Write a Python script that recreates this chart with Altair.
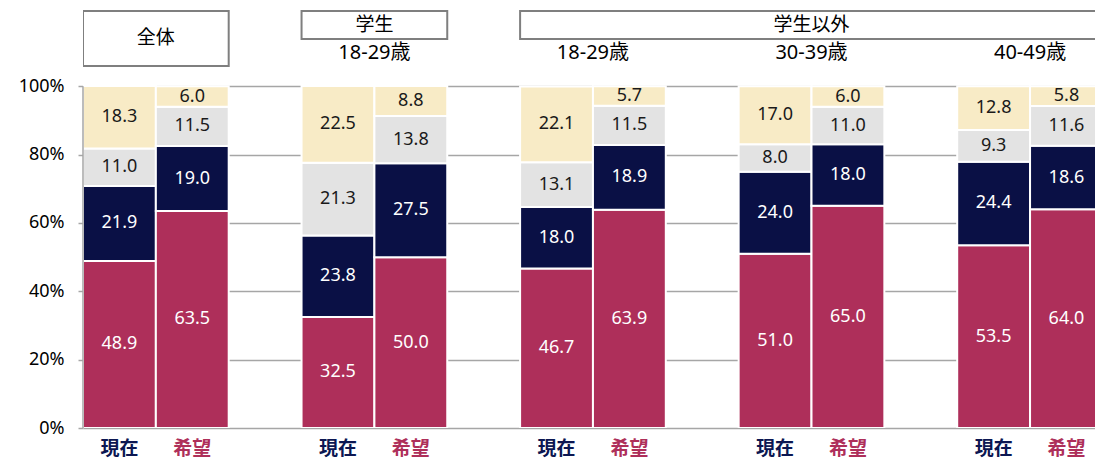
import altair as alt
import pandas as pd

# ---- data ----
groups = ["全体", "学生 18-29歳", "学生以外 18-29歳", "学生以外 30-39歳", "学生以外 40-49歳"]
kinds = ["現在", "希望"]
segments = ["seg1", "seg2", "seg3", "seg4"]  # bottom -> top

current_red = [48.9, 32.5, 46.7, 51.0, 53.5]
current_navy = [21.9, 23.8, 18.0, 24.0, 24.4]
current_gray = [11.0, 21.3, 13.1, 8.0, 9.3]
current_cream = [18.3, 22.5, 22.1, 17.0, 12.8]

hope_red = [63.5, 50.0, 63.9, 65.0, 64.0]
hope_navy = [19.0, 27.5, 18.9, 18.0, 18.6]
hope_gray = [11.5, 13.8, 11.5, 11.0, 11.6]
hope_cream = [6.0, 8.8, 5.7, 6.0, 5.8]

header_titles = ["全体", "学生", "学生以外"]
age_labels = ["18-29歳", "18-29歳", "30-39歳", "40-49歳"]
y_ticks = [0, 20, 40, 60, 80, 100]

# ---- styling ----
seg_colors = ["#AE2F5A", "#0A1045", "#E3E3E3", "#F8EBC6"]
seg_text = ["#FFFFFF", "#FFFFFF", "#1A1A1A", "#1A1A1A"]
kind_colors = ["#0C1752", "#AE2F5A"]
GRID = "#A6A6A6"
FONT = "Noto Sans, Noto Sans CJK JP"
CJK = "Noto Sans CJK JP, Noto Sans"

# ---- build tables ----
rows = []
series = {
    0: [current_red, current_navy, current_gray, current_cream],
    1: [hope_red, hope_navy, hope_gray, hope_cream],
}
for g in range(len(groups)):
    for k in range(2):
        pos = 3 * g + k
        base = 0.0
        for s in range(4):
            v = series[k][s][g]
            rows.append(dict(group=groups[g], kind=kinds[k], seg=segments[s],
                             x0=pos, x1=pos + 1, xm=pos + 0.5,
                             y0=base, y1=base + v, ym=base + v / 2,
                             value=v, tcolor=seg_text[s]))
            base += v
df = pd.DataFrame(rows)

cat_df = pd.DataFrame([
    dict(label=kinds[k], xm=3 * g + k + 0.5, y=-6.2, c=kind_colors[k])
    for g in range(len(groups)) for k in range(2)
])

box_df = pd.DataFrame(dict(
    title=header_titles,
    x0=[0, 3, 6], x1=[2, 5, 14],
    y0=[105.9, 113.8, 113.8], y1=[122.0, 122.0, 122.0],
    tx=[1, 4, 10], ty=[114.0, 118.0, 118.0],
))
age_df = pd.DataFrame(dict(label=age_labels, x=[4, 7, 10, 13], y=[109.6] * 4))
axis_line_df = pd.DataFrame(dict(x=[0], y0=[0], y1=[100]))

XMAX = 1012 / 72.85
xs = alt.Scale(domain=[0, XMAX], nice=False, zero=False)
ys = alt.Scale(domain=[0, 122.9], nice=False, zero=False)
yaxis = alt.Axis(values=y_ticks, labelExpr="datum.value + '%'", grid=True,
                 gridColor=GRID, gridWidth=1.5, domain=False, tickColor=GRID,
                 tickSize=5, tickWidth=1.5, labelFontSize=18, labelFont="Noto Sans",
                 labelColor="#000000", labelPadding=14, title=None)

bars = alt.Chart(df).mark_rect(stroke="white", strokeWidth=2, clip=True).encode(
    x=alt.X("x0:Q", scale=xs, axis=None), x2="x1:Q",
    y=alt.Y("y0:Q", scale=ys, axis=yaxis), y2="y1:Q",
    color=alt.Color("seg:N", scale=alt.Scale(domain=segments, range=seg_colors), legend=None),
)

axis_line = alt.Chart(axis_line_df).mark_rule(color=GRID, strokeWidth=1.5).encode(
    x=alt.X("x:Q", scale=xs, axis=None),
    y=alt.Y("y0:Q", scale=ys, axis=yaxis), y2="y1:Q",
)

bar_text = alt.Chart(df).mark_text(font="Noto Sans", fontSize=18, baseline="middle").encode(
    x=alt.X("xm:Q", scale=xs, axis=None),
    y=alt.Y("ym:Q", scale=ys, axis=yaxis),
    text=alt.Text("value:Q", format=".1f"),
    color=alt.Color("tcolor:N", scale=None),
)

boxes = alt.Chart(box_df).mark_rect(fill="white", stroke="#7F7F7F", strokeWidth=2, clip=True).encode(
    x=alt.X("x0:Q", scale=xs, axis=None), x2="x1:Q",
    y=alt.Y("y0:Q", scale=ys, axis=yaxis), y2="y1:Q",
)

box_text = alt.Chart(box_df).mark_text(font=CJK, fontSize=19, fontWeight="normal",
                                       baseline="middle", color="#000000").encode(
    x=alt.X("tx:Q", scale=xs, axis=None),
    y=alt.Y("ty:Q", scale=ys, axis=yaxis),
    text="title:N",
)

age_text = alt.Chart(age_df).mark_text(font=FONT, fontSize=20, fontWeight="normal",
                                       baseline="middle", color="#000000").encode(
    x=alt.X("x:Q", scale=xs, axis=None),
    y=alt.Y("y:Q", scale=ys, axis=yaxis),
    text="label:N",
)

cat_text = alt.Chart(cat_df).mark_text(font=CJK, fontSize=19, fontWeight="bold", baseline="middle").encode(
    x=alt.X("xm:Q", scale=xs, axis=None),
    y=alt.Y("y:Q", scale=ys, axis=yaxis),
    text="label:N",
    color=alt.Color("c:N", scale=None),
)

chart = alt.layer(bars, axis_line, bar_text, boxes, box_text, age_text, cat_text).properties(
    width=1012, height=420,
    autosize=alt.AutoSizeParams(type="none"),
    padding={"left": 83, "top": 8, "right": 0, "bottom": 34},
    background="white",
).configure_view(stroke=None)

chart.save("out.html", embed_options={"renderer": "svg", "actions": False})
